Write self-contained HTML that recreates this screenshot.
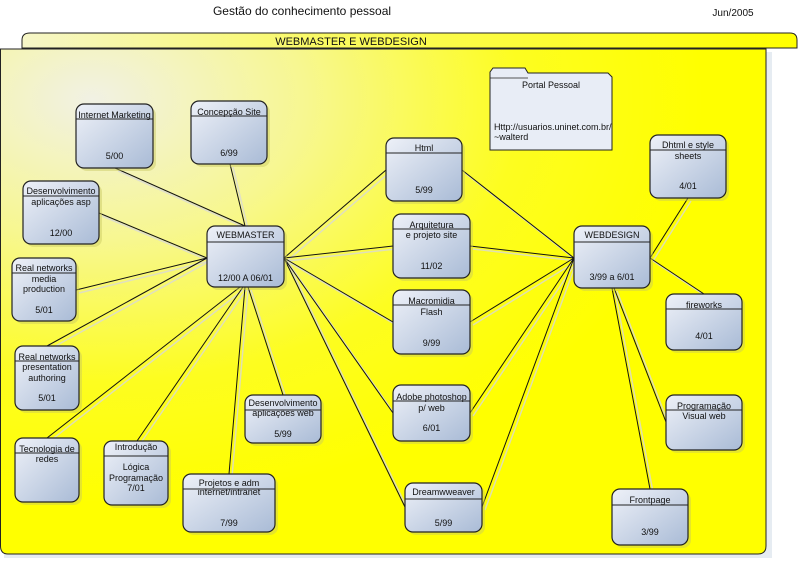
<!DOCTYPE html>
<html><head><meta charset="utf-8"><style>
html,body{margin:0;padding:0;background:#fff;width:801px;height:561px;overflow:hidden}
svg{display:block}
text{font-family:"Liberation Sans",Arial,sans-serif;font-size:9px;fill:#111}
</style></head><body>
<svg width="801" height="561" viewBox="0 0 801 561" xmlns="http://www.w3.org/2000/svg">
<defs>
<linearGradient id="tab" x1="0" y1="0" x2="1" y2="0">
<stop offset="0" stop-color="#f6f6c8"/><stop offset="0.4" stop-color="#fafa60"/><stop offset="1" stop-color="#ffff00"/></linearGradient>
<radialGradient id="bg" cx="0.12" cy="0.1" r="0.8">
<stop offset="0" stop-color="#f1f1e4"/><stop offset="0.35" stop-color="#f7f790"/><stop offset="0.7" stop-color="#fdfd20"/><stop offset="1" stop-color="#ffff00"/></radialGradient>
<linearGradient id="nd" x1="0" y1="0" x2="1" y2="1">
<stop offset="0" stop-color="#eef1f8"/><stop offset="1" stop-color="#a9bbd6"/></linearGradient>
</defs>
<text x="302" y="15" text-anchor="middle" style="font-size:12px">Gestão do conhecimento pessoal</text>
<text x="733" y="16" text-anchor="middle" style="font-size:10px">Jun/2005</text>
<path d="M22,48 L22,40 Q22,33 30,33 L790,33 Q797,33 797,40 L797,48 Z" fill="url(#tab)" stroke="#222" stroke-width="1"/>
<text x="351" y="45" text-anchor="middle" style="font-size:11px">WEBMASTER E WEBDESIGN</text>
<path d="M4,52 L772,52 L772,558 L4,558 Z" fill="#e6ecf2"/>
<path d="M0.5,49 L766,49 L766,546 Q766,554 758,554 L8,554 Q0.5,554 0.5,546 Z" fill="url(#bg)" stroke="#222" stroke-width="1"/>
<g stroke="#d8d8d8" stroke-width="1.5" fill="none" opacity="0.8" transform="translate(3,3)">
<path d="M115,168 L245,226 M230,164 L245,226 M99,213 L207,258 M76,290 L207,258 M47,346 L207,258 M47,438 L240,287 M137,441 L243,287 M229,474 L245,287 M283,395 L248,287
M284,258 L386,170 M284,258 L393,246 M284,258 L393,322 M284,258 L393,413 M284,258 L405,507
M574,258 L462,170 M574,258 L470,246 M574,258 L470,322 M574,258 L470,413 M574,258 L482,507
M650,258 L688,198 M650,258 L704,294 M614,288 L666,422 M612,288 L650,489"/>
</g>
<g stroke="#111" stroke-width="1" fill="none">
<path d="M115,168 L245,226 M230,164 L245,226 M99,213 L207,258 M76,290 L207,258 M47,346 L207,258 M47,438 L240,287 M137,441 L243,287 M229,474 L245,287 M283,395 L248,287
M284,258 L386,170 M284,258 L393,246 M284,258 L393,322 M284,258 L393,413 M284,258 L405,507
M574,258 L462,170 M574,258 L470,246 M574,258 L470,322 M574,258 L470,413 M574,258 L482,507
M650,258 L688,198 M650,258 L704,294 M614,288 L666,422 M612,288 L650,489"/>
</g>
<path d="M490,81 L490,72 L493,68 L525,68 L528,73 L608,73 L612,77 L612,150 L490,150 Z" fill="#e8edf6" stroke="#222" stroke-width="1"/>
<path d="M490,78 L528,78" stroke="#222" stroke-width="0.8"/>
<text x="551" y="88" text-anchor="middle">Portal Pessoal</text>
<text x="494" y="130">Http://usuarios.uninet.com.br/</text>
<text x="494" y="140">~walterd</text>
<g>
<g><rect x="79" y="107" width="77" height="64" rx="8" fill="#c8c860" opacity="0.45"/><rect x="76" y="104" width="77" height="64" rx="8" fill="url(#nd)" stroke="#222" stroke-width="1.2"/><line x1="76" y1="119" x2="153" y2="119" stroke="#222"/><text x="114.5" y="118" text-anchor="middle">Internet Marketing</text><text x="114.5" y="159" text-anchor="middle">5/00</text></g>
<g><rect x="194" y="104" width="76" height="63" rx="8" fill="#c8c860" opacity="0.45"/><rect x="191" y="101" width="76" height="63" rx="8" fill="url(#nd)" stroke="#222" stroke-width="1.2"/><line x1="191" y1="116" x2="267" y2="116" stroke="#222"/><text x="229" y="115" text-anchor="middle">Concepção Site</text><text x="229" y="156" text-anchor="middle">6/99</text></g>
<g><rect x="26" y="184" width="76" height="63" rx="8" fill="#c8c860" opacity="0.45"/><rect x="23" y="181" width="76" height="63" rx="8" fill="url(#nd)" stroke="#222" stroke-width="1.2"/><line x1="23" y1="196" x2="99" y2="196" stroke="#222"/><text x="61" y="194" text-anchor="middle">Desenvolvimento</text><text x="61" y="205" text-anchor="middle">aplicações asp</text><text x="61" y="236" text-anchor="middle">12/00</text></g>
<g><rect x="15" y="261" width="64" height="63" rx="8" fill="#c8c860" opacity="0.45"/><rect x="12" y="258" width="64" height="63" rx="8" fill="url(#nd)" stroke="#222" stroke-width="1.2"/><line x1="12" y1="273" x2="76" y2="273" stroke="#222"/><text x="44" y="271" text-anchor="middle">Real networks</text><text x="44" y="282" text-anchor="middle">media</text><text x="44" y="292" text-anchor="middle">production</text><text x="44" y="313" text-anchor="middle">5/01</text></g>
<g><rect x="18" y="349" width="64" height="64" rx="8" fill="#c8c860" opacity="0.45"/><rect x="15" y="346" width="64" height="64" rx="8" fill="url(#nd)" stroke="#222" stroke-width="1.2"/><line x1="15" y1="361" x2="79" y2="361" stroke="#222"/><text x="47" y="360" text-anchor="middle">Real networks</text><text x="47" y="370" text-anchor="middle">presentation</text><text x="47" y="381" text-anchor="middle">authoring</text><text x="47" y="401" text-anchor="middle">5/01</text></g>
<g><rect x="18" y="441" width="64" height="64" rx="8" fill="#c8c860" opacity="0.45"/><rect x="15" y="438" width="64" height="64" rx="8" fill="url(#nd)" stroke="#222" stroke-width="1.2"/><line x1="15" y1="453" x2="79" y2="453" stroke="#222"/><text x="47" y="452" text-anchor="middle">Tecnologia de</text><text x="47" y="462" text-anchor="middle">redes</text></g>
<g><rect x="107" y="444" width="64" height="64" rx="8" fill="#c8c860" opacity="0.45"/><rect x="104" y="441" width="64" height="64" rx="8" fill="url(#nd)" stroke="#222" stroke-width="1.2"/><line x1="104" y1="456" x2="168" y2="456" stroke="#222"/><text x="136" y="450" text-anchor="middle">Introdução</text><text x="136" y="470" text-anchor="middle">Lógica</text><text x="136" y="481" text-anchor="middle">Programação</text><text x="136" y="491" text-anchor="middle">7/01</text></g>
<g><rect x="186" y="477" width="92" height="58" rx="8" fill="#c8c860" opacity="0.45"/><rect x="183" y="474" width="92" height="58" rx="8" fill="url(#nd)" stroke="#222" stroke-width="1.2"/><line x1="183" y1="489" x2="275" y2="489" stroke="#222"/><text x="229" y="486" text-anchor="middle">Projetos e adm</text><text x="229" y="495" text-anchor="middle">internet/intranet</text><text x="229" y="526" text-anchor="middle">7/99</text></g>
<g><rect x="248" y="398" width="76" height="48" rx="8" fill="#c8c860" opacity="0.45"/><rect x="245" y="395" width="76" height="48" rx="8" fill="url(#nd)" stroke="#222" stroke-width="1.2"/><line x1="245" y1="410" x2="321" y2="410" stroke="#222"/><text x="283" y="406" text-anchor="middle">Desenvolvimento</text><text x="283" y="416" text-anchor="middle">aplicações web</text><text x="283" y="437" text-anchor="middle">5/99</text></g>
<g><rect x="210" y="229" width="77" height="61" rx="8" fill="#c8c860" opacity="0.45"/><rect x="207" y="226" width="77" height="61" rx="8" fill="url(#nd)" stroke="#222" stroke-width="1.2"/><line x1="207" y1="242" x2="284" y2="242" stroke="#222"/><text x="245.5" y="238" text-anchor="middle">WEBMASTER</text><text x="245.5" y="281" text-anchor="middle">12/00 A 06/01</text></g>
<g><rect x="389" y="141" width="76" height="63" rx="8" fill="#c8c860" opacity="0.45"/><rect x="386" y="138" width="76" height="63" rx="8" fill="url(#nd)" stroke="#222" stroke-width="1.2"/><line x1="386" y1="153" x2="462" y2="153" stroke="#222"/><text x="424" y="151" text-anchor="middle">Html</text><text x="424" y="193" text-anchor="middle">5/99</text></g>
<g><rect x="396" y="217" width="77" height="64" rx="8" fill="#c8c860" opacity="0.45"/><rect x="393" y="214" width="77" height="64" rx="8" fill="url(#nd)" stroke="#222" stroke-width="1.2"/><line x1="393" y1="229" x2="470" y2="229" stroke="#222"/><text x="431.5" y="228" text-anchor="middle">Arquitetura</text><text x="431.5" y="238" text-anchor="middle">e projeto site</text><text x="431.5" y="269" text-anchor="middle">11/02</text></g>
<g><rect x="396" y="293" width="77" height="64" rx="8" fill="#c8c860" opacity="0.45"/><rect x="393" y="290" width="77" height="64" rx="8" fill="url(#nd)" stroke="#222" stroke-width="1.2"/><line x1="393" y1="305" x2="470" y2="305" stroke="#222"/><text x="431.5" y="304" text-anchor="middle">Macromidia</text><text x="431.5" y="315" text-anchor="middle">Flash</text><text x="431.5" y="346" text-anchor="middle">9/99</text></g>
<g><rect x="396" y="388" width="77" height="56" rx="8" fill="#c8c860" opacity="0.45"/><rect x="393" y="385" width="77" height="56" rx="8" fill="url(#nd)" stroke="#222" stroke-width="1.2"/><line x1="393" y1="401" x2="470" y2="401" stroke="#222"/><text x="431.5" y="400" text-anchor="middle">Adobe photoshop</text><text x="431.5" y="411" text-anchor="middle">p/ web</text><text x="431.5" y="431" text-anchor="middle">6/01</text></g>
<g><rect x="408" y="486" width="77" height="49" rx="8" fill="#c8c860" opacity="0.45"/><rect x="405" y="483" width="77" height="49" rx="8" fill="url(#nd)" stroke="#222" stroke-width="1.2"/><line x1="405" y1="499" x2="482" y2="499" stroke="#222"/><text x="443.5" y="495" text-anchor="middle">Dreamwweaver</text><text x="443.5" y="526" text-anchor="middle">5/99</text></g>
<g><rect x="577" y="229" width="76" height="62" rx="8" fill="#c8c860" opacity="0.45"/><rect x="574" y="226" width="76" height="62" rx="8" fill="url(#nd)" stroke="#222" stroke-width="1.2"/><line x1="574" y1="242" x2="650" y2="242" stroke="#222"/><text x="612" y="238" text-anchor="middle">WEBDESIGN</text><text x="612" y="280" text-anchor="middle">3/99 a 6/01</text></g>
<g><rect x="653" y="138" width="76" height="63" rx="8" fill="#c8c860" opacity="0.45"/><rect x="650" y="135" width="76" height="63" rx="8" fill="url(#nd)" stroke="#222" stroke-width="1.2"/><line x1="650" y1="150" x2="726" y2="150" stroke="#222"/><text x="688" y="148" text-anchor="middle">Dhtml e style</text><text x="688" y="159" text-anchor="middle">sheets</text><text x="688" y="189" text-anchor="middle">4/01</text></g>
<g><rect x="669" y="297" width="76" height="56" rx="8" fill="#c8c860" opacity="0.45"/><rect x="666" y="294" width="76" height="56" rx="8" fill="url(#nd)" stroke="#222" stroke-width="1.2"/><line x1="666" y1="309" x2="742" y2="309" stroke="#222"/><text x="704" y="308" text-anchor="middle">fireworks</text><text x="704" y="339" text-anchor="middle">4/01</text></g>
<g><rect x="669" y="398" width="76" height="55" rx="8" fill="#c8c860" opacity="0.45"/><rect x="666" y="395" width="76" height="55" rx="8" fill="url(#nd)" stroke="#222" stroke-width="1.2"/><line x1="666" y1="410" x2="742" y2="410" stroke="#222"/><text x="704" y="409" text-anchor="middle">Programação</text><text x="704" y="419" text-anchor="middle">Visual web</text></g>
<g><rect x="615" y="492" width="76" height="56" rx="8" fill="#c8c860" opacity="0.45"/><rect x="612" y="489" width="76" height="56" rx="8" fill="url(#nd)" stroke="#222" stroke-width="1.2"/><line x1="612" y1="505" x2="688" y2="505" stroke="#222"/><text x="650" y="503" text-anchor="middle">Frontpage</text><text x="650" y="535" text-anchor="middle">3/99</text></g>
</g>
</svg>
</body></html>
